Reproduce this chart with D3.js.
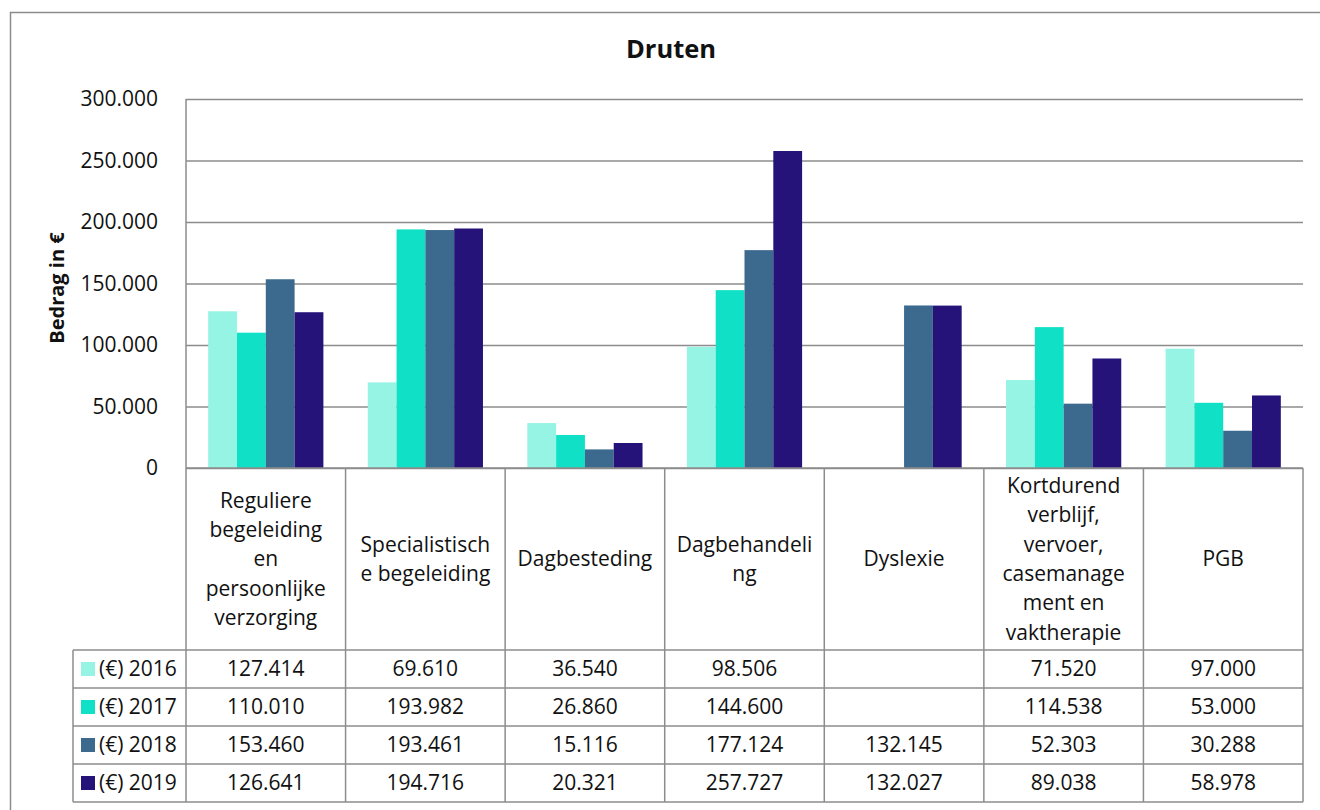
<!DOCTYPE html>
<html>
<head>
<meta charset="utf-8">
<script src="https://cdn.jsdelivr.net/npm/d3@7"></script>
<style>
  html, body { margin: 0; padding: 0; background: #fff; }
  svg { display: block; font-family: "Open Sans", "Noto Sans", sans-serif; }
</style>
</head>
<body>
<svg id="chart" width="1320" height="810"></svg>
<script>
// Zorgkosten per categorie, Druten
const title = "Druten";
const yAxisTitle = "Bedrag in €";
const categories = [
  "Reguliere begeleiding en persoonlijke verzorging",
  "Specialistische begeleiding",
  "Dagbesteding",
  "Dagbehandeling",
  "Dyslexie",
  "Kortdurend verblijf, vervoer, casemanagement en vaktherapie",
  "PGB"
];
// Category labels as wrapped in the table header cells
const categoryLines = [
  ["Reguliere", "begeleiding", "en", "persoonlijke", "verzorging"],
  ["Specialistisch", "e begeleiding"],
  ["Dagbesteding"],
  ["Dagbehandeli", "ng"],
  ["Dyslexie"],
  ["Kortdurend", "verblijf,", "vervoer,", "casemanage", "ment en", "vaktherapie"],
  ["PGB"]
];
const seriesNames = ["(€) 2016", "(€) 2017", "(€) 2018", "(€) 2019"];
const values2016 = [127414, 69610, 36540, 98506, null, 71520, 97000];
const values2017 = [110010, 193982, 26860, 144600, null, 114538, 53000];
const values2018 = [153460, 193461, 15116, 177124, 132145, 52303, 30288];
const values2019 = [126641, 194716, 20321, 257727, 132027, 89038, 58978];
const seriesValues = [values2016, values2017, values2018, values2019];
const seriesColors = ["#96f4e4", "#10e0c5", "#3c6a8e", "#25137a"];
const yTicks = [0, 50000, 100000, 150000, 200000, 250000, 300000];

const svg = d3.select("#chart");
const gridColor = "#8c8c8c";
const textColor = "#111";
const fontSize = 21;

const plot = { left: 186, right: 1303, top: 99, bottom: 468 };
const tableLeft = 73;
const headerBottom = 650;
const rowH = 38;

const fmt = d3.formatLocale({ decimal: ",", thousands: ".", grouping: [3], currency: ["€", ""] }).format(",.0f");

const x = d3.scaleBand().domain(d3.range(categories.length)).range([plot.left, plot.right]).paddingInner(0).paddingOuter(0);
const inner = d3.scaleBand().domain(d3.range(seriesNames.length)).range([0, x.bandwidth()]).paddingOuter(0.77).paddingInner(0);
const y = d3.scaleLinear().domain([0, 300000]).range([plot.bottom, plot.top]);

// Outer frame
svg.append("rect").attr("x", 10.5).attr("y", 12.5).attr("width", 1400).attr("height", 900)
  .attr("fill", "none").attr("stroke", gridColor).attr("stroke-width", 1.5);

// Title
svg.append("text").attr("x", 671).attr("y", 58).attr("text-anchor", "middle")
  .attr("font-size", 25.5).attr("font-weight", 700).attr("fill", textColor).text(title);

// Gridlines + y axis
const yAxis = d3.axisLeft(y).tickValues(yTicks).tickFormat(fmt).tickSize(-(plot.right - plot.left)).tickPadding(28);
const gy = svg.append("g").attr("transform", `translate(${plot.left},0)`).call(yAxis);
gy.select(".domain").remove();
gy.selectAll(".tick line").attr("stroke", gridColor).attr("stroke-width", 1.5);
gy.selectAll(".tick text").attr("font-size", fontSize).attr("fill", textColor).attr("font-family", "Open Sans, Noto Sans, sans-serif");

// Y axis title
svg.append("text").attr("transform", `translate(64,288) rotate(-90)`).attr("text-anchor", "middle")
  .attr("font-size", 20).attr("font-weight", 700).attr("fill", textColor).text(yAxisTitle);

// Bars
seriesValues.forEach((vals, s) => {
  svg.append("g").selectAll("rect")
    .data(vals.map((v, i) => ({ v, i })).filter(d => d.v != null))
    .join("rect")
    .attr("x", d => x(d.i) + inner(s))
    .attr("width", inner.bandwidth())
    .attr("y", d => y(d.v))
    .attr("height", d => y(0) - y(d.v))
    .attr("fill", seriesColors[s]);
});

// Table
const tableBottom = headerBottom + rowH * seriesNames.length;
const tg = svg.append("g").attr("stroke", gridColor).attr("stroke-width", 1.5);
// left axis line from top of plot to bottom of table
tg.append("line").attr("x1", plot.left).attr("x2", plot.left).attr("y1", plot.top).attr("y2", tableBottom);
// category column separators
d3.range(1, categories.length + 1).forEach(i => {
  const xx = i < categories.length ? x(i) : plot.right;
  tg.append("line").attr("x1", xx).attr("x2", xx).attr("y1", plot.bottom).attr("y2", tableBottom);
});
// legend column left edge
tg.append("line").attr("x1", tableLeft).attr("x2", tableLeft).attr("y1", headerBottom).attr("y2", tableBottom);
// zero line / header top
tg.append("line").attr("x1", plot.left).attr("x2", plot.right).attr("y1", plot.bottom).attr("y2", plot.bottom);
// row lines
d3.range(seriesNames.length + 1).forEach(r => {
  const yy = headerBottom + r * rowH;
  tg.append("line").attr("x1", tableLeft).attr("x2", plot.right).attr("y1", yy).attr("y2", yy);
});

// Category header labels
const lineH = 29.3;
const headerMid = (plot.bottom + headerBottom) / 2;
categoryLines.forEach((lines, i) => {
  const cx = x(i) + x.bandwidth() / 2;
  const t = svg.append("text").attr("text-anchor", "middle").attr("font-size", fontSize).attr("fill", textColor);
  const y0 = headerMid - (lines.length - 1) * lineH / 2;
  lines.forEach((ln, k) => {
    t.append("tspan").attr("x", cx).attr("y", y0 + k * lineH).attr("dy", "0.35em").text(ln);
  });
});

// Legend cells and values
seriesNames.forEach((name, s) => {
  const cy = headerBottom + s * rowH + rowH / 2;
  svg.append("rect").attr("x", 81).attr("y", cy - 7).attr("width", 14).attr("height", 14).attr("fill", seriesColors[s]);
  svg.append("text").attr("x", 99).attr("y", cy).attr("dy", "0.35em").attr("font-size", fontSize).attr("fill", textColor).text(name);
  seriesValues[s].forEach((v, i) => {
    if (v == null) return;
    svg.append("text").attr("x", x(i) + x.bandwidth() / 2).attr("y", cy).attr("dy", "0.35em")
      .attr("text-anchor", "middle").attr("font-size", fontSize).attr("fill", textColor).text(fmt(v));
  });
});
</script>
</body>
</html>
